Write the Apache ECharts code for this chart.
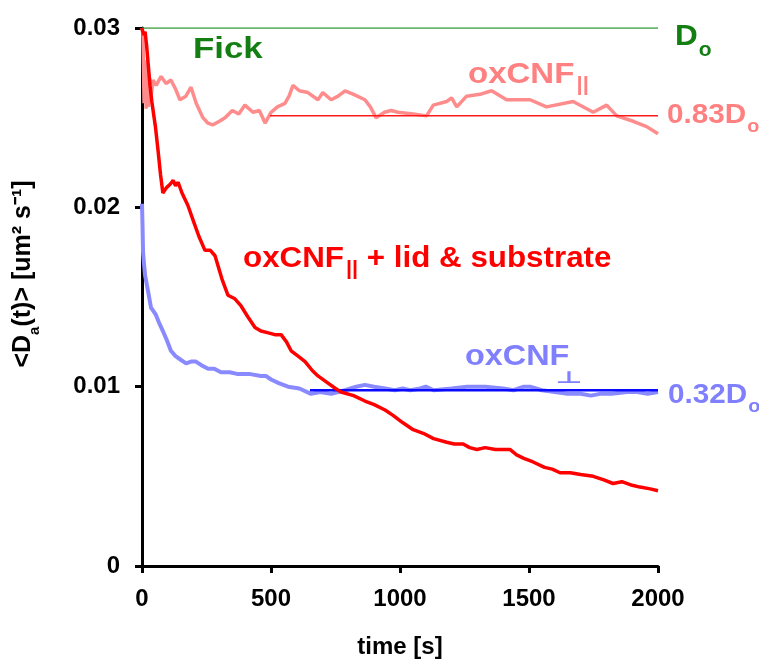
<!DOCTYPE html>
<html>
<head>
<meta charset="utf-8">
<script src="https://cdn.jsdelivr.net/npm/echarts@6/dist/echarts.min.js"></script>
<style>
  html, body { margin: 0; padding: 0; background: #fff; }
  #chart { width: 759px; height: 664px; }
</style>
</head>
<body>
<div id="chart"></div>
<script>
const FONT = '"Liberation Sans", Arial, sans-serif'

// oxCNF∥ (free)
const parT = [0, 4, 8, 12, 16, 20, 25, 30, 35, 43, 55, 74, 93, 112, 130, 147, 170, 190, 210, 236, 255, 275, 300, 322, 350, 375, 399, 430, 455, 477, 500, 525, 554, 570, 585, 610, 643, 682, 701, 733, 760, 787, 820, 864, 885, 907, 940, 965, 992, 1051, 1103, 1129, 1181, 1200, 1220, 1258, 1310, 1355, 1413, 1504, 1568, 1671, 1749, 1801, 1840, 1904, 1956, 2000]
const parD = [0.0300, 0.0296, 0.0258, 0.0282, 0.0255, 0.0276, 0.0256, 0.0272, 0.0262, 0.0271, 0.0268, 0.0273, 0.0269, 0.0271, 0.0266, 0.0260, 0.0262, 0.0267, 0.0258, 0.0250, 0.0247, 0.0246, 0.0248, 0.0250, 0.0254, 0.0252, 0.0257, 0.0253, 0.0254, 0.0247, 0.0253, 0.0256, 0.0258, 0.0262, 0.0268, 0.0265, 0.0264, 0.0260, 0.0264, 0.0260, 0.0262, 0.0265, 0.0263, 0.0260, 0.0256, 0.0250, 0.0253, 0.0254, 0.0253, 0.0252, 0.0251, 0.0257, 0.0259, 0.0261, 0.0256, 0.0262, 0.0263, 0.0265, 0.0260, 0.0260, 0.0256, 0.0259, 0.0253, 0.0257, 0.0251, 0.0248, 0.0245, 0.0241]

// oxCNF∥ + lid & substrate
const lidT = [0, 6, 12, 18, 23, 31, 38, 43, 52, 62, 72, 81, 95, 110, 121, 130, 140, 155, 178, 200, 220, 244, 265, 283, 310, 333, 360, 384, 410, 438, 461, 490, 515, 539, 560, 578, 605, 632, 660, 682, 721, 750, 771, 820, 864, 900, 942, 973, 1010, 1051, 1090, 1130, 1181, 1210, 1245, 1270, 1298, 1330, 1370, 1400, 1426, 1452, 1480, 1516, 1560, 1590, 1620, 1660, 1700, 1749, 1790, 1826, 1860, 1900, 1930, 1970, 2000]
const lidD = [0.0300, 0.0296, 0.0298, 0.0290, 0.0291, 0.0268, 0.0259, 0.0258, 0.0245, 0.0232, 0.0218, 0.0208, 0.0211, 0.0213, 0.0215, 0.0212, 0.0214, 0.0208, 0.0201, 0.0192, 0.0184, 0.0176, 0.0176, 0.0173, 0.0160, 0.0151, 0.0149, 0.0145, 0.0139, 0.0133, 0.0131, 0.0130, 0.0129, 0.0129, 0.0125, 0.0120, 0.0117, 0.0114, 0.0109, 0.0106, 0.0102, 0.0099, 0.0097, 0.0095, 0.0092, 0.0090, 0.0087, 0.0084, 0.0080, 0.0076, 0.0074, 0.0071, 0.0069, 0.0068, 0.0068, 0.0066, 0.0065, 0.0066, 0.0065, 0.0065, 0.0065, 0.0062, 0.0060, 0.0058, 0.0055, 0.0054, 0.0052, 0.0052, 0.0051, 0.0050, 0.0048, 0.0046, 0.0047, 0.0045, 0.0044, 0.0043, 0.0042]

// oxCNF⊥
const perT = [0, 2, 4, 8, 12, 16, 25, 35, 45, 54, 65, 81, 96, 112, 130, 150, 171, 190, 209, 230, 256, 280, 306, 340, 372, 420, 461, 480, 500, 530, 566, 610, 655, 690, 733, 760, 787, 830, 864, 900, 942, 980, 1010, 1040, 1078, 1100, 1130, 1200, 1260, 1330, 1400, 1440, 1480, 1504, 1550, 1600, 1650, 1700, 1740, 1775, 1820, 1880, 1920, 1960, 2000]
const perD = [0.0202, 0.0190, 0.0175, 0.0168, 0.0162, 0.0159, 0.0152, 0.0144, 0.0142, 0.0140, 0.0136, 0.0131, 0.0126, 0.0120, 0.0117, 0.0115, 0.0113, 0.0114, 0.0114, 0.0112, 0.0110, 0.0110, 0.0108, 0.0108, 0.0107, 0.0107, 0.0106, 0.0106, 0.0104, 0.0102, 0.0100, 0.0099, 0.0096, 0.0097, 0.0096, 0.0097, 0.0098, 0.0100, 0.0101, 0.0100, 0.0099, 0.0098, 0.0099, 0.0098, 0.0099, 0.0100, 0.0098, 0.0099, 0.0100, 0.0100, 0.0099, 0.0098, 0.0100, 0.0100, 0.0098, 0.0097, 0.0096, 0.0096, 0.0095, 0.0096, 0.0096, 0.0097, 0.0097, 0.0096, 0.0097]

// reference levels: Fick D0, 0.83 D0, 0.32 D0
const fickT = [0, 2000]
const fickD = [0.0300, 0.0300]
const parFitT = [496, 2000]
const parFitD = [0.0251, 0.0251]
const perFitT = [651, 2000]
const perFitD = [0.0098, 0.0098]

const xTicks = [0, 500, 1000, 1500, 2000]
const yTicks = [0, 0.01, 0.02, 0.03]

const zip = (t, d) => t.map((v, i) => [v, d[i]])

function lineSeries(name, t, d, color, width) {
    return {
        name: name,
        type: 'line',
        data: zip(t, d),
        showSymbol: false,
        silent: true,
        lineStyle: { color: color, width: width },
        animation: false
    }
}

// rich text styles: m = main, o = subscript letter, b = subscript bars
function richFor(size, color) {
    const base = { fontWeight: 'bold', fontFamily: FONT, fill: color, verticalAlign: 'top' }
    const sub = Math.round(size * 0.68)
    return {
        m: Object.assign({}, base, { fontSize: size, lineHeight: size + 4 }),
        o: Object.assign({}, base, { fontSize: sub, lineHeight: sub, padding: [Math.round(size * 0.6), 0, 0, 1] }),
        b: Object.assign({}, base, { fontSize: sub, lineHeight: sub, padding: [Math.round(size * 0.5), 0, 0, 2] })
    }
}

function label(x, y, text, color, size, sx, sy) {
    return {
        type: 'text',
        x: x,
        y: y,
        scaleX: sx,
        scaleY: sy || 1,
        silent: true,
        style: {
            text: text,
            rich: richFor(size, color),
            fill: color,
            fontSize: size,
            fontWeight: 'bold',
            fontFamily: FONT,
            align: 'left',
            verticalAlign: 'top'
        }
    }
}

const chart = echarts.init(document.getElementById('chart'))
chart.setOption({
    backgroundColor: '#fff',
    animation: false,
    grid: { left: 142, right: 101, top: 28, bottom: 93, containLabel: false },
    xAxis: {
        type: 'value',
        min: xTicks[0],
        max: xTicks[xTicks.length - 1],
        interval: xTicks[1] - xTicks[0],
        name: 'time [s]',
        nameLocation: 'middle',
        nameGap: 69,
        nameTextStyle: { fontSize: 24, fontWeight: 'bold', fontFamily: FONT, color: '#000' },
        axisLine: { lineStyle: { color: '#000', width: 3 } },
        axisTick: { length: 7, lineStyle: { color: '#000', width: 3 } },
        axisLabel: {
            fontSize: 24, fontWeight: 'bold', fontFamily: FONT, color: '#000', margin: 21,
            formatter: v => String(v)
        },
        splitLine: { show: false }
    },
    yAxis: {
        type: 'value',
        min: yTicks[0],
        max: yTicks[yTicks.length - 1],
        interval: yTicks[1] - yTicks[0],
        name: '{m|<D}{o|a}{m|(t)> [um² s⁻¹]}',
        nameLocation: 'middle',
        nameGap: 102,
        nameRotate: 90,
        nameTextStyle: {
            fontSize: 24, fontWeight: 'bold', fontFamily: FONT, color: '#000',
            padding: [0, 0, 0, 46],
            rich: {
                m: { fontSize: 25, fontWeight: 'bold', fontFamily: FONT, color: '#000', lineHeight: 29, verticalAlign: 'top' },
                o: { fontSize: 15, fontWeight: 'bold', fontFamily: FONT, color: '#000', lineHeight: 15, verticalAlign: 'top', padding: [16, 0, 0, 0] }
            }
        },
        axisLine: { show: true, lineStyle: { color: '#000', width: 3 } },
        axisTick: { show: true, length: 7, lineStyle: { color: '#000', width: 3 } },
        axisLabel: {
            fontSize: 24, fontWeight: 'bold', fontFamily: FONT, color: '#000', margin: 22,
            formatter: v => (v === 0 ? '0' : v.toFixed(2))
        },
        splitLine: { show: false }
    },
    series: [
        lineSeries('Fick', fickT, fickD, '#3c9c3c', 1.5),
        lineSeries('oxCNF∥', parT, parD, '#ff8c8c', 3.5),
        lineSeries('0.83D0', parFitT, parFitD, '#ff1a1a', 1.5),
        lineSeries('oxCNF⊥', perT, perD, '#8a8aff', 4),
        lineSeries('0.32D0', perFitT, perFitD, '#0a0aff', 2.5),
        lineSeries('oxCNF∥ + lid & substrate', lidT, lidD, '#ff0000', 3.5)
    ],
    graphic: [
        label(193, 35, '{m|Fick}', '#137f13', 30, 1.16),
        label(675, 22, '{m|D}{o|o}', '#137f13', 30, 1.05),
        label(468, 60, '{m|oxCNF}{b|||}', '#ff8080', 30, 1.1),
        label(667, 102, '{m|0.83D}{o|o}', '#ff8080', 27, 1.1),
        label(243, 244, '{m|oxCNF}{b|||}{m| + lid & substrate}', '#ff0000', 29, 1.08),
        label(465, 342, '{m|oxCNF}', '#8080ff', 30, 1.08),
        {
            type: 'text', x: 555, y: 370, scaleX: 1.35, scaleY: 0.75, silent: true,
            style: {
                text: '⊥', fill: '#8080ff', fontSize: 22, fontWeight: 'bold',
                fontFamily: '"DejaVu Sans", sans-serif', align: 'left', verticalAlign: 'top'
            }
        },
        label(668, 382, '{m|0.32D}{o|o}', '#8080ff', 27, 1.1)
    ]
})
</script>
</body>
</html>
